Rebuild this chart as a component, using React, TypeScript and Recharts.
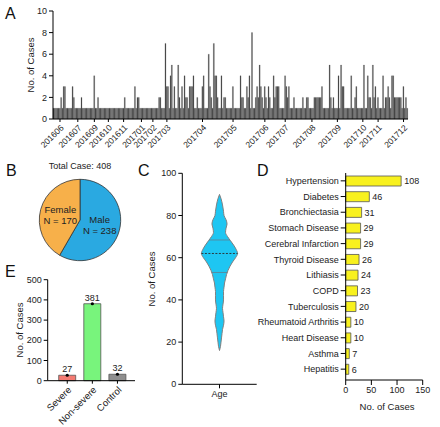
import React from 'react'
import {
  BarChart, Bar, XAxis, YAxis, PieChart, Pie, Cell, ComposedChart, Area, Line,
  ReferenceLine, LabelList,
} from 'recharts'

// ---- A: daily cases, grouped by the month label shown on the axis ----
const monthLabels = [
  '', '201606', '201607', '201609', '201610', '201611', '201701', '201702', '201703',
  '201704', '201705', '201706', '201707', '201708', '201709', '201710', '201711', '201712',
]
const dailyCases = [
  [1, 1, 1, 1, 1],
  [1, 2, 1, 3, 3, 1, 1, 1, 1, 1, 3, 2, 1, 1],
  [1, 1, 1, 2, 1, 1, 1, 1, 1, 1, 1, 1, 1],
  [4, 1, 1, 2, 1, 1, 1, 1, 1, 1, 1],
  [1, 1, 1, 1, 1, 1, 1, 1, 1, 1, 1, 1],
  [1, 2, 1, 1, 1, 1, 1, 1, 1, 3, 1, 2, 2, 1],
  [1, 1, 1, 1, 1, 1, 1, 1, 1],
  [1, 1, 1, 1, 1, 2, 2, 1, 1, 1, 7],
  [3, 3, 1, 4, 5, 1, 3, 1, 1, 5, 2, 1, 3, 1, 4, 2, 2, 1, 3, 3, 3, 4, 1, 1, 2, 1, 1, 1],
  [3, 4, 1, 1, 1, 6, 3, 2, 1, 7, 4, 4, 2, 1, 1, 4, 1, 2, 2, 1, 1, 1, 1, 1],
  [3, 1, 1, 1, 1, 1, 4, 2, 2, 1, 1, 3, 2, 4, 1, 8, 1, 1, 2, 3, 2, 5, 3, 2, 1],
  [3, 2, 1, 3, 2, 1, 1, 4, 2, 3, 3, 3, 1, 1, 1, 1],
  [4, 3, 2, 3, 1, 1, 1, 2, 1, 1, 1, 1, 1, 1, 2, 1, 1, 2, 2, 1, 1],
  [1, 1, 2, 2, 2, 2, 2, 2, 3, 1, 1, 1, 1, 1, 5, 2, 1, 2, 1, 1],
  [1, 4, 1, 5, 3, 3, 1, 1, 1, 1, 1, 4, 1, 1, 2, 3, 1, 1, 1, 1],
  [1, 5, 1, 1, 4, 2, 2, 1, 5, 2, 3, 1],
  [2, 1, 1, 1, 4, 1, 2, 2, 3, 2, 1, 4, 4, 2, 2, 2, 2, 2, 2, 1],
  [3, 1, 2, 1],
]

// ---- B: sex ----
const sexNames = ['Male', 'Female']
const sexCases = [238, 170]
const sexColors = ['#2aa9e1', '#f7b04a']

// ---- C: age distribution (violin) ----
const violinAges = [90, 88, 85, 82, 80, 78, 76, 74, 72, 70, 68, 66, 64, 62, 60, 58, 56, 54, 52, 50,
  48, 46, 44, 42, 40, 38, 36, 34, 32, 30, 28, 26, 24, 22, 20, 18, 16]
const violinDensity = [0, 1.5, 3, 4, 4.5, 6.5, 7.5, 6.5, 6, 8, 11, 14, 16.5, 18, 16, 13, 10.5, 8.5, 7, 6,
  5, 4.5, 4, 4, 4, 3.5, 3, 3.5, 4, 4.5, 4, 3, 2.5, 2, 1.5, 1, 0]
const ageQuartiles = [53, 62, 68.4]

// ---- D: comorbidities ----
const diseases = ['Hypertension', 'Diabetes', 'Bronchiectasia', 'Stomach Disease', 'Cerebral Infarction',
  'Thyroid Disease', 'Lithiasis', 'COPD', 'Tuberculosis', 'Rheumatoid Arthritis', 'Heart Disease',
  'Asthma', 'Hepatitis']
const diseaseCases = [108, 46, 31, 29, 29, 26, 24, 23, 20, 10, 10, 7, 6]

// ---- E: severity ----
const groups = ['Severe', 'Non-severe', 'Control']
const groupCases = [27, 381, 32]
const groupColors = ['#f47a72', '#78f47c', '#8f8f8f']

const dailyData: { i: number; n: number }[] = []
const monthTicks: number[] = []
const tickText: Record<number, string> = {}
dailyCases.forEach((month, m) => {
  month.forEach((n, j) => {
    const i = dailyData.length
    if (j === 0 && monthLabels[m]) {
      monthTicks.push(i)
      tickText[i] = monthLabels[m]
    }
    dailyData.push({ i, n })
  })
})

const sexData = sexNames.map((name, k) => ({ name, value: sexCases[k] }))
const violinData = violinAges.map((age, k) => ({ age, range: [-violinDensity[k], violinDensity[k]] }))
const diseaseData = diseases.map((name, k) => ({ name, n: diseaseCases[k] }))
const groupData = groups.map((name, k) => ({ name, n: groupCases[k] }))

function densityAt(age: number) {
  for (let k = 0; k < violinAges.length - 1; k++) {
    const a0 = violinAges[k], a1 = violinAges[k + 1]
    if (age <= a0 && age >= a1) {
      const t = (a0 - age) / (a0 - a1)
      return violinDensity[k] + t * (violinDensity[k + 1] - violinDensity[k])
    }
  }
  return 0
}

const ink = '#222'
const tickStyle = { fontSize: 9, fill: ink }
const axisLine = { stroke: '#000', strokeWidth: 1 }

function Letter({ x, y, children }: { x: number; y: number; children: string }) {
  return <div style={{ position: 'absolute', left: x, top: y, fontSize: 16, lineHeight: '16px', color: '#111' }}>{children}</div>
}

function Caption({ x, y, text, rotate = false, size = 9.5 }: { x: number; y: number; text: string; rotate?: boolean; size?: number }) {
  return (
    <div style={{
      position: 'absolute', left: x, top: y, fontSize: size, color: ink, whiteSpace: 'nowrap', lineHeight: 1,
      transform: `translate(-50%, -50%)${rotate ? ' rotate(-90deg)' : ''}`,
    }}>{text}</div>
  )
}

function pieLabel(props: any) {
  const { cx, cy, midAngle, outerRadius, payload } = props
  const rad = Math.PI / 180
  const x = cx + outerRadius * 0.5 * Math.cos(-midAngle * rad)
  const y = cy + outerRadius * 0.5 * Math.sin(-midAngle * rad)
  return (
    <text x={x} y={y} textAnchor="middle" fontSize={9.5} fill={ink}>
      <tspan x={x} dy="-0.2em">{payload.name}</tspan>
      <tspan x={x} dy="1.15em">N = {payload.value}</tspan>
    </text>
  )
}

export default function App() {
  return (
    <div style={{ position: 'absolute', left: 0, top: 0, width: 440, height: 427, background: '#fff', fontFamily: '"Liberation Sans", Arial, sans-serif', overflow: 'hidden' }}>
      {/* A */}
      <Letter x={5} y={6}>A</Letter>
      <Caption x={31} y={65} text="No. of Cases" rotate />
      <div style={{ position: 'absolute', left: 0, top: 0 }}>
        <BarChart width={440} height={150} data={dailyData} barCategoryGap={0} barGap={0}
          margin={{ top: 11, right: 32, bottom: 1, left: 23 }}>
          <XAxis dataKey="i" type="category" ticks={monthTicks} interval={0} height={30}
            tickFormatter={(i) => tickText[i] ?? ''} angle={-45} textAnchor="end"
            tick={{ fontSize: 8.5, fill: ink }} tickSize={3} axisLine={axisLine} tickLine={axisLine} />
          <YAxis width={30} domain={[0, 10]} ticks={[0, 2, 4, 6, 8, 10]} tick={tickStyle} tickSize={4}
            axisLine={axisLine} tickLine={axisLine} />
          <Bar dataKey="n" fill="#464646" stroke="#464646" strokeWidth={0.2} isAnimationActive={false} />
        </BarChart>
      </div>

      {/* B */}
      <Letter x={6} y={163}>B</Letter>
      <Caption x={80} y={166} text="Total Case: 408" size={9} />
      <div style={{ position: 'absolute', left: 0, top: 160 }}>
        <PieChart width={160} height={110} margin={{ top: 0, right: 0, bottom: 0, left: 0 }}>
          <Pie data={sexData} dataKey="value" nameKey="name" cx={80} cy={60} outerRadius={40.7}
            startAngle={90} endAngle={-270} stroke="#333" strokeWidth={0.8}
            label={pieLabel} labelLine={false} isAnimationActive={false}>
            {sexData.map((d, k) => <Cell key={d.name} fill={sexColors[k]} />)}
          </Pie>
        </PieChart>
      </div>

      {/* C */}
      <Letter x={138} y={163}>C</Letter>
      <Caption x={152} y={279} text="No. of Cases" rotate />
      <div style={{ position: 'absolute', left: 130, top: 160 }}>
        <ComposedChart layout="vertical" width={130} height={250} data={violinData}
          margin={{ top: 13.3, right: 3.3, bottom: 5.7, left: 22.3 }}>
          <XAxis type="number" domain={[-37, 37]} ticks={[0]} tickFormatter={() => 'Age'} height={20}
            tick={tickStyle} tickSize={4} axisLine={axisLine} tickLine={axisLine} />
          <YAxis type="number" dataKey="age" domain={[0, 100]} ticks={[0, 20, 40, 60, 80, 100]} width={30}
            reversed tick={tickStyle} tickSize={4} axisLine={axisLine} tickLine={axisLine} />
          <Area dataKey="range" type="monotone" fill="#1ec6f2" fillOpacity={1} stroke="#808080"
            strokeWidth={1} isAnimationActive={false} />
          {ageQuartiles.map((q, k) => {
            const w = densityAt(q)
            return (
              <ReferenceLine key={q} segment={[{ x: -w, y: q }, { x: w, y: q }]}
                stroke={k === 1 ? '#2a2a2a' : '#5f7f90'} strokeWidth={k === 1 ? 0.9 : 0.8}
                strokeDasharray={k === 1 ? '2 1.5' : undefined} />
            )
          })}
        </ComposedChart>
      </div>

      {/* D */}
      <Letter x={257} y={163}>D</Letter>
      <Caption x={387} y={407} text="No. of Cases" />
      <div style={{ position: 'absolute', left: 200, top: 160 }}>
        <BarChart layout="vertical" width={240} height={267} data={diseaseData}
          margin={{ top: 13, right: 17.3, bottom: 27, left: 5.7 }}>
          <XAxis type="number" domain={[0, 150]} ticks={[0, 50, 100, 150]} height={20}
            tick={tickStyle} tickSize={5} axisLine={axisLine} tickLine={axisLine} />
          <YAxis type="category" dataKey="name" width={140} interval={0} padding={{ top: 0, bottom: 3 }}
            tick={tickStyle} tickSize={5} axisLine={axisLine} tickLine={axisLine} />
          <Bar dataKey="n" barSize={10} fill="#f8f11e" stroke="#555" strokeWidth={0.8} isAnimationActive={false}>
            <LabelList dataKey="n" position="right" offset={3} style={{ fontSize: 9, fill: ink }} />
          </Bar>
        </BarChart>
      </div>

      {/* E */}
      <Letter x={5} y={264}>E</Letter>
      <Caption x={20} y={330} text="No. of Cases" rotate />
      <div style={{ position: 'absolute', left: 0, top: 270 }}>
        <ComposedChart width={150} height={157} data={groupData}
          margin={{ top: 9.7, right: 15, bottom: 6.3, left: 17.7 }}>
          <XAxis dataKey="name" type="category" interval={0} height={40} padding={{ left: 7, right: 5 }}
            angle={-45} textAnchor="end" tick={{ fontSize: 9.5, fill: ink }} tickSize={3} axisLine={axisLine} tickLine={axisLine} />
          <YAxis width={30} domain={[0, 500]} ticks={[0, 100, 200, 300, 400, 500]} tick={tickStyle}
            tickSize={4} axisLine={axisLine} tickLine={axisLine} />
          <Bar dataKey="n" barSize={17} stroke="#555" strokeWidth={0.8} isAnimationActive={false}>
            {groupData.map((d, k) => <Cell key={d.name} fill={groupColors[k]} />)}
            <LabelList dataKey="n" position="top" offset={3} style={{ fontSize: 9, fill: ink }} />
          </Bar>
          <Line dataKey="n" stroke="none" dot={{ r: 1.6, fill: '#000', stroke: 'none' }} isAnimationActive={false} />
        </ComposedChart>
      </div>
    </div>
  )
}
